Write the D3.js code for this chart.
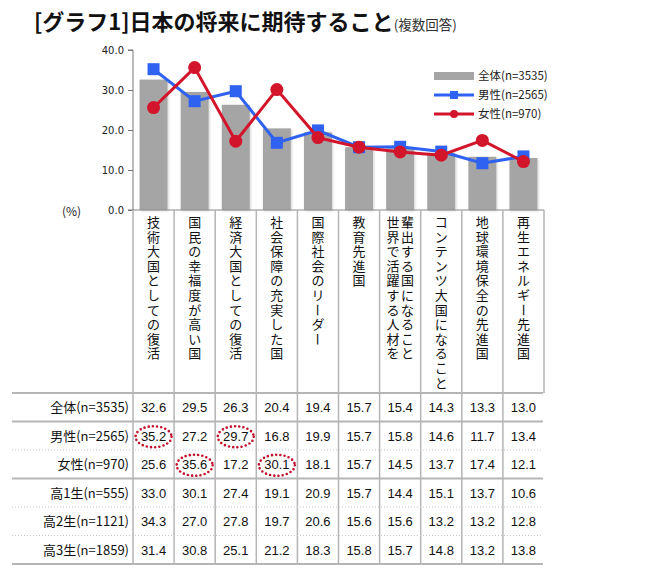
<!DOCTYPE html>
<html>
<head>
<meta charset="utf-8">
<script src="https://cdn.jsdelivr.net/npm/d3@7"></script>
<style>
  body { margin: 0; background: #fff; }
  text { font-family: "Noto Sans CJK JP", sans-serif; }
</style>
</head>
<body>
<div id="chart-area"></div>
<script>
// data
const categories = [
  "技術大国としての復活",
  "国民の幸福度が高い国",
  "経済大国としての復活",
  "社会保障の充実した国",
  "国際社会のリーダー",
  "教育先進国",
  "世界で活躍する人材を輩出する国になること",
  "コンテンツ大国になること",
  "地球環境保全の先進国",
  "再生エネルギー先進国"
];
// wrapped label columns (left to right) for the vertical labels
const labelColumns = [
  ["技術大国としての復活"],
  ["国民の幸福度が高い国"],
  ["経済大国としての復活"],
  ["社会保障の充実した国"],
  ["国際社会のリーダー"],
  ["教育先進国"],
  ["世界で活躍する人材を", "輩出する国になること"],
  ["コンテンツ大国になること"],
  ["地球環境保全の先進国"],
  ["再生エネルギー先進国"]
];
const rowLabels = ["全体(n=3535)", "男性(n=2565)", "女性(n=970)", "高1生(n=555)", "高2生(n=1121)", "高3生(n=1859)"];
const total = [32.6, 29.5, 26.3, 20.4, 19.4, 15.7, 15.4, 14.3, 13.3, 13.0];
const male = [35.2, 27.2, 29.7, 16.8, 19.9, 15.7, 15.8, 14.6, 11.7, 13.4];
const female = [25.6, 35.6, 17.2, 30.1, 18.1, 15.7, 14.5, 13.7, 17.4, 12.1];
const grade1 = [33.0, 30.1, 27.4, 19.1, 20.9, 15.7, 14.4, 15.1, 13.7, 10.6];
const grade2 = [34.3, 27.0, 27.8, 19.7, 20.6, 15.6, 15.6, 13.2, 13.2, 12.8];
const grade3 = [31.4, 30.8, 25.1, 21.2, 18.3, 15.8, 15.7, 14.8, 13.2, 13.8];
const yTicks = [0, 10, 20, 30, 40];
// cells circled in the table: [row, column]
const circled = [[1, 0], [1, 2], [2, 1], [2, 3]];

const tableRows = [total, male, female, grade1, grade2, grade3];

const W = 662, H = 576;
const svg = d3.select("#chart-area").append("svg")
  .attr("width", W).attr("height", H);

const defs = svg.append("defs");
const shadow = defs.append("filter").attr("id", "shadow")
  .attr("x", "-20%").attr("y", "-20%").attr("width", "140%").attr("height", "140%");
shadow.append("feDropShadow").attr("dx", 1).attr("dy", 1).attr("stdDeviation", 1.2)
  .attr("flood-color", "#000").attr("flood-opacity", 0.18);

// title
const title = svg.append("text").attr("x", 34).attr("y", 30);
title.append("tspan").text("[グラフ1]日本の将来に期待すること")
  .attr("font-size", 22).attr("font-weight", "bold").attr("fill", "#111");
title.append("tspan").text("(複数回答)")
  .attr("font-size", 13.5).attr("fill", "#333");

// scales
const left = 133, right = 544;
const x = d3.scaleBand().domain(categories).range([left, right])
  .paddingInner(0.32).paddingOuter(0.16);
const col = d3.scaleBand().domain(categories).range([left, right]);
const y = d3.scaleLinear().domain([0, 40]).range([210, 50]);

// y axis
const yAxis = d3.axisLeft(y).tickValues(yTicks).tickFormat(d3.format(".1f"))
  .tickSize(5).tickPadding(4);
const yg = svg.append("g").attr("transform", `translate(${left},0)`).call(yAxis);
yg.select(".domain").attr("stroke", "#777").attr("d", "M-5,50H0V210H-5");
yg.selectAll(".tick line").attr("stroke", "#777");
yg.selectAll(".tick text").attr("fill", "#222")
  .style("font-family", "DejaVu Sans, sans-serif").attr("font-size", 10);

svg.append("text").attr("x", 62).attr("y", 216).attr("font-size", 12)
  .attr("fill", "#222").text("(%)");

// bars
svg.append("g").selectAll("rect").data(categories).join("rect")
  .attr("x", d => x(d))
  .attr("y", (d, i) => y(total[i]))
  .attr("width", x.bandwidth())
  .attr("height", (d, i) => y(0) - y(total[i]))
  .attr("fill", "#a5a5a5")
  .attr("filter", "url(#shadow)");

// x baseline
svg.append("line").attr("x1", left).attr("x2", right)
  .attr("y1", y(0)).attr("y2", y(0)).attr("stroke", "#888").attr("stroke-width", 1);

// lines
const cx = d => x(d) + x.bandwidth() / 2;
const line = d3.line().x(d => cx(d.c)).y(d => y(d.v));
const maleData = categories.map((c, i) => ({ c: c, v: male[i] }));
const femaleData = categories.map((c, i) => ({ c: c, v: female[i] }));

svg.append("path").datum(maleData).attr("d", line)
  .attr("fill", "none").attr("stroke", "#2f62f0").attr("stroke-width", 3);
svg.append("g").selectAll("rect").data(maleData).join("rect")
  .attr("x", d => cx(d.c) - 6).attr("y", d => y(d.v) - 6)
  .attr("width", 12).attr("height", 12).attr("fill", "#2f62f0");

svg.append("path").datum(femaleData).attr("d", line)
  .attr("fill", "none").attr("stroke", "#d3152c").attr("stroke-width", 3);
svg.append("g").selectAll("circle").data(femaleData).join("circle")
  .attr("cx", d => cx(d.c)).attr("cy", d => y(d.v)).attr("r", 6.5)
  .attr("fill", "#d3152c");

// legend
const lg = svg.append("g");
lg.append("rect").attr("x", 434).attr("y", 72).attr("width", 40).attr("height", 8)
  .attr("fill", "#a5a5a5");
lg.append("line").attr("x1", 434).attr("x2", 474).attr("y1", 95).attr("y2", 95)
  .attr("stroke", "#2f62f0").attr("stroke-width", 3);
lg.append("rect").attr("x", 450).attr("y", 91).attr("width", 8).attr("height", 8)
  .attr("fill", "#2f62f0");
lg.append("line").attr("x1", 434).attr("x2", 474).attr("y1", 114).attr("y2", 114)
  .attr("stroke", "#d3152c").attr("stroke-width", 3);
lg.append("circle").attr("cx", 454).attr("cy", 114).attr("r", 4).attr("fill", "#d3152c");
["全体(n=3535)", "男性(n=2565)", "女性(n=970)"].forEach((t, i) => {
  lg.append("text").attr("x", 478).attr("y", 80 + i * 19).attr("font-size", 11.5)
    .attr("fill", "#222").text(t);
});

// vertical category labels, stacked one character at a time
const charStep = 14.6;
const labels = svg.append("g");
categories.forEach((c, i) => {
  const cols = labelColumns[i];
  const center = col(c) + col.bandwidth() / 2;
  cols.forEach((s, k) => {
    const lx = center + (k - (cols.length - 1) / 2) * 14.5;
    Array.from(s).forEach((ch, j) => {
      const isDash = ch === "ー";
      labels.append("text")
        .attr("x", lx).attr("y", 227 + j * charStep)
        .attr("text-anchor", "middle").attr("font-size", 13).attr("fill", "#111")
        .attr("transform", isDash ? `rotate(90,${lx},${222.5 + j * charStep})` : null)
        .text(ch);
    });
  });
});

// table grid
const rowTop = 393, rowH = 28.5;
const grid = svg.append("g");
const boundaries = categories.map(c => col(c)).concat([right]);
boundaries.forEach((bx, i) => {
  grid.append("line").attr("x1", bx).attr("x2", bx)
    .attr("y1", 210).attr("y2", i === boundaries.length - 1 ? rowTop : rowTop + rowH * 6)
    .attr("stroke", "#b5b5b5").attr("stroke-width", 1.5);
});
const solidRows = [0, 1, 3, 6];
d3.range(7).forEach(r => {
  const solid = solidRows.includes(r);
  grid.append("line").attr("x1", 12).attr("x2", 543)
    .attr("y1", rowTop + r * rowH).attr("y2", rowTop + r * rowH)
    .attr("stroke", solid ? "#b5b5b5" : "#c8c8c8")
    .attr("stroke-width", solid ? 2 : 1)
    .attr("stroke-dasharray", solid ? null : "1 2");
});

// table text
const table = svg.append("g");
tableRows.forEach((vals, r) => {
  const ty = rowTop + r * rowH + rowH / 2 + 5;
  table.append("text").attr("x", 129).attr("y", ty).attr("text-anchor", "end")
    .attr("font-size", 13).attr("fill", "#111").text(rowLabels[r]);
  vals.forEach((v, i) => {
    table.append("text").attr("x", col(categories[i]) + col.bandwidth() / 2).attr("y", ty)
      .attr("text-anchor", "middle").attr("font-size", 13).attr("fill", "#111")
      .style("font-family", "Liberation Sans, sans-serif")
      .text(v.toFixed(1));
  });
});

// circled highlights
circled.forEach(([r, i]) => {
  table.append("ellipse")
    .attr("cx", col(categories[i]) + col.bandwidth() / 2)
    .attr("cy", rowTop + r * rowH + rowH / 2 + 1)
    .attr("rx", 18).attr("ry", 10.5)
    .attr("fill", "none").attr("stroke", "#c0102a").attr("stroke-width", 2.6)
    .attr("stroke-linecap", "round").attr("stroke-dasharray", "0 4.2");
});
</script>
</body>
</html>
